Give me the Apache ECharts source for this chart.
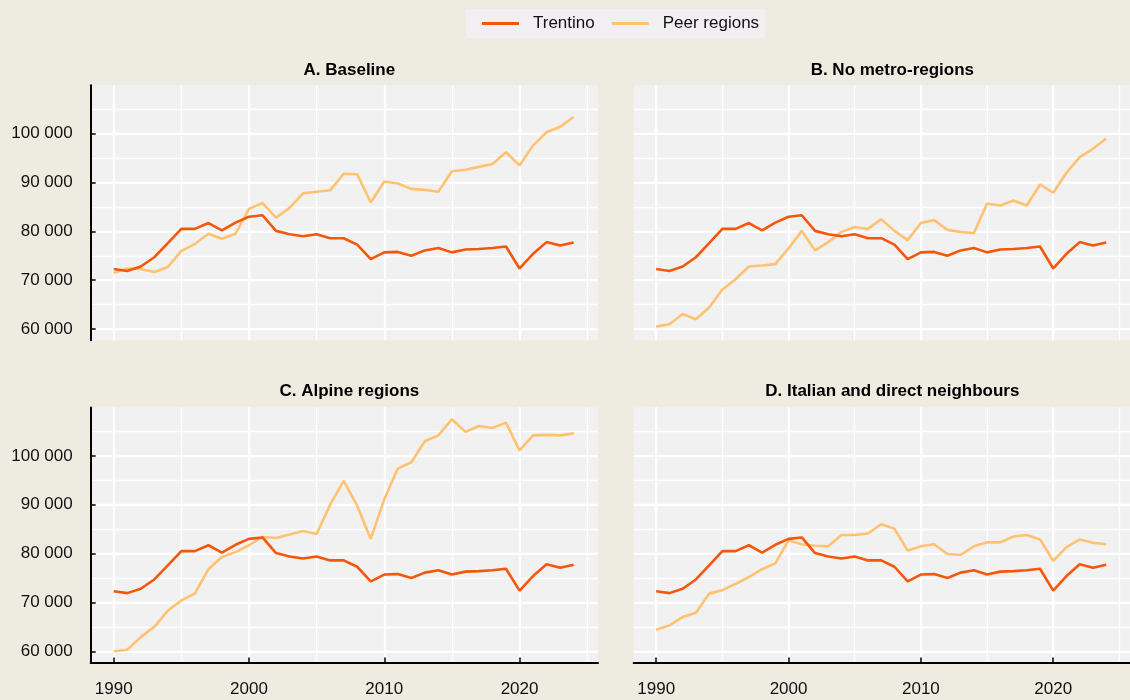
<!DOCTYPE html>
<html><head><meta charset="utf-8">
<script src="https://cdn.jsdelivr.net/npm/echarts@6/dist/echarts.min.js"></script>
<style>html,body{margin:0;padding:0;background:#eeebe1}#c{width:1130px;height:700px}</style>
</head><body><div id="c"></div>
<script>
const years = [1990,1991,1992,1993,1994,1995,1996,1997,1998,1999,2000,2001,2002,2003,2004,2005,2006,2007,2008,2009,2010,2011,2012,2013,2014,2015,2016,2017,2018,2019,2020,2021,2022,2023,2024];
const trentino = [72300,71900,72800,74700,77600,80500,80500,81700,80200,81800,83000,83300,80100,79400,79000,79400,78600,78600,77300,74300,75700,75800,75000,76100,76600,75700,76300,76400,76600,76900,72400,75400,77800,77100,77700];
const peerBaseline = [71500,72400,72300,71700,72700,76000,77400,79500,78500,79500,84600,85800,82800,84800,87800,88100,88400,91800,91700,85900,90200,89800,88700,88500,88100,92300,92600,93200,93800,96200,93500,97600,100300,101400,103400];
const peerNoMetro = [60500,61000,63100,62000,64400,68100,70200,72800,73000,73300,76500,80100,76100,77800,79900,80900,80500,82500,80100,78200,81700,82300,80300,79900,79600,85700,85300,86300,85300,89600,87900,92000,95200,96900,99000];
const peerAlpine = [60000,60300,62900,65000,68300,70400,71800,76800,79300,80300,81700,83400,83200,83900,84600,84000,90000,94900,89800,83000,91100,97400,98700,103000,104200,107500,104900,106100,105700,106800,101100,104200,104300,104200,104600];
const peerItalian = [64400,65300,67000,67900,71800,72500,73800,75200,76800,78000,82700,81900,81600,81500,83800,83800,84100,86000,85100,80600,81500,81900,79900,79700,81500,82300,82300,83500,83800,82900,78500,81300,82900,82200,81900];
const panelTitles = ['A. Baseline','B. No metro-regions','C. Alpine regions','D. Italian and direct neighbours'];
const seriesNames = ['Trentino','Peer regions'];
const yTickValues = [60000,70000,80000,90000,100000];
const yGridValues = [60000,65000,70000,75000,80000,85000,90000,95000,100000,105000];
const xTickValues = [1990,2000,2010,2020];
const xGridValues = [1990,1995,2000,2005,2010,2015,2020,2025];

const FONT = '"Liberation Sans",Arial,sans-serif';
const FS = 17;
const C_TREN = '#f4570a', C_PEER = '#ffc270';
const peers = [peerBaseline, peerNoMetro, peerAlpine, peerItalian];
const XMIN = 1988.3, XMAX = 2025.8, YMIN = 57700, YMAX = 109900;
const grids = [
  {left: 90.7, top: 85.3},
  {left: 633.7, top: 85.3},
  {left: 90.7, top: 407.5},
  {left: 633.7, top: 407.5}
].map(g => ({left: g.left, top: g.top, width: 507.3, height: 255, show: true, backgroundColor: '#f1f1f1', borderWidth: 0}));

const fmt = v => String(v).replace(/\B(?=(\d{3})+(?!\d))/g, ' ');
const gridLine = {show: true, showMinLine: true, showMaxLine: true, lineStyle: {color: '#ffffff', width: 1.4}};
const majorLine = {show: true, showMinLine: true, showMaxLine: true, lineStyle: {color: '#ffffff', width: 2}};

const xAxes = [], yAxes = [];
grids.forEach((g, i) => {
  xAxes.push({
    type: 'value', gridIndex: i, min: XMIN, max: XMAX, position: 'bottom',
    splitLine: gridLine,
    axisLine: {show: false}, axisLabel: {show: false},
    axisTick: {show: false, customValues: xGridValues}
  });
  yAxes.push({
    type: 'value', gridIndex: i, min: YMIN, max: YMAX, position: 'left',
    splitLine: gridLine,
    axisLine: {show: false}, axisLabel: {show: false},
    axisTick: {show: false, customValues: yGridValues}
  });
});
grids.forEach((g, i) => {
  const bottom = i >= 2, left = i % 2 === 0;
  xAxes.push({
    type: 'value', gridIndex: i, min: XMIN, max: XMAX, position: 'bottom',
    splitLine: majorLine,
    axisLine: {show: bottom, onZero: false, lineStyle: {color: '#000', width: 2}},
    axisTick: {show: bottom, inside: true, length: 5, customValues: xTickValues, lineStyle: {color: '#000', width: 1.5}},
    axisLabel: {show: bottom, customValues: xTickValues, margin: 18, color: '#111', fontFamily: FONT, fontSize: FS, formatter: v => String(v)}
  });
  yAxes.push({
    type: 'value', gridIndex: i, min: YMIN, max: YMAX, position: 'left',
    splitLine: majorLine,
    axisLine: {show: left, onZero: false, lineStyle: {color: '#000', width: 2}},
    axisTick: {show: left, inside: true, length: 5, customValues: yTickValues, lineStyle: {color: '#000', width: 1.5}},
    axisLabel: {show: left, customValues: yTickValues, margin: 18, color: '#111', fontFamily: FONT, fontSize: FS, formatter: fmt}
  });
});

const titles = panelTitles.map((t, i) => ({
  text: t, left: grids[i].left + 253.65, top: i < 2 ? 57 : 378, textAlign: 'center',
  textStyle: {fontFamily: FONT, fontSize: FS, fontWeight: 'bold', color: '#000'}
}));

const series = [];
peers.forEach((p, i) => {
  series.push({
    name: seriesNames[0], type: 'line', xAxisIndex: i, yAxisIndex: i, symbol: 'none', z: 3,
    lineStyle: {color: C_TREN, width: 2.6}, itemStyle: {color: C_TREN},
    data: years.map((y, k) => [y, trentino[k]])
  });
  series.push({
    name: seriesNames[1], type: 'line', xAxisIndex: i, yAxisIndex: i, symbol: 'none', z: 2,
    lineStyle: {color: C_PEER, width: 2.6}, itemStyle: {color: C_PEER},
    data: years.map((y, k) => [y, p[k]])
  });
});

const chart = echarts.init(document.getElementById('c'), null, {renderer: 'canvas'});
chart.setOption({
  backgroundColor: '#eeebe1',
  animation: false,
  title: titles,
  legend: {
    data: seriesNames, left: 466, top: 9, padding: [6, 6, 6, 16], backgroundColor: '#f1eff1',
    icon: 'rect', itemWidth: 37, itemHeight: 3, itemGap: 17,
    textStyle: {fontFamily: FONT, fontSize: FS, color: '#111', padding: [0, 0, 0, 9]}
  },
  grid: grids, xAxis: xAxes, yAxis: yAxes, series: series
});
</script></body></html>
